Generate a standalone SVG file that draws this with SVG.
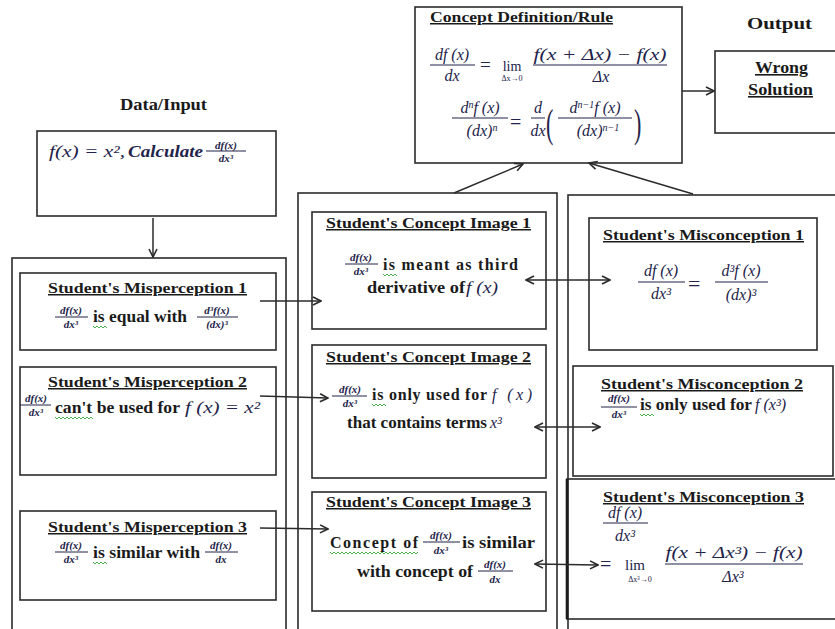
<svg xmlns="http://www.w3.org/2000/svg" width="835" height="629" viewBox="0 0 835 629">
<style>
.box{fill:none;stroke:#2b2b2b;stroke-width:1.6}
.ln{fill:none;stroke:#2b2b2b;stroke-width:1.5}
.bar{stroke:#23234a;stroke-width:1}
.h{font-family:"Liberation Serif","DejaVu Serif",serif;font-weight:bold;font-size:15px;text-decoration:underline;fill:#1a1a1a}
.t{font-family:"Liberation Serif","DejaVu Serif",serif;font-weight:bold;font-size:16px;fill:#1a1a1a}
.m{font-family:"Liberation Serif","DejaVu Serif",serif;font-style:italic;font-size:15px;fill:#23234a}
.r{font-family:"Liberation Serif","DejaVu Serif",serif;font-size:15px;fill:#23234a}
.s{font-family:"Liberation Serif","DejaVu Serif",serif;font-style:italic;font-weight:bold;font-size:11px;fill:#23234a;text-anchor:middle}
.c{text-anchor:middle}
.sq{fill:none;stroke:#4caf50;stroke-width:1}
</style>
<defs>
<marker id="ar" viewBox="0 0 10 10" refX="9" refY="5" markerWidth="10" markerHeight="10" markerUnits="userSpaceOnUse" orient="auto-start-reverse">
<path d="M1,1 L9,5 L1,9" fill="none" stroke="#2b2b2b" stroke-width="1.6"/>
</marker>
</defs>

<!-- column outer boxes -->
<g id="col-left"><rect class="box" x="12" y="258" width="274" height="400"/></g>
<g id="col-middle"><rect class="box" x="298" y="193" width="259" height="460"/></g>
<g id="col-right"><rect class="box" x="568" y="195" width="290" height="460"/></g>

<!-- Concept definition -->
<g id="concept-definition">
<rect class="box" x="415" y="7" width="267" height="156"/>
<text class="h" x="430" y="22" textLength="183" lengthAdjust="spacingAndGlyphs">Concept Definition/Rule</text>
<text class="m c" x="452" y="60" style="font-size:16px">df (x)</text>
<line class="bar" x1="430" y1="65" x2="475" y2="65"/>
<text class="m c" x="452" y="81" style="font-size:16px">dx</text>
<text class="r" x="480" y="71" style="font-size:19px">=</text>
<text class="r c" x="512" y="71" style="font-size:14px">lim</text>
<text class="r c" x="512" y="81" style="font-size:8px">Δx→0</text>
<text class="m c" x="600" y="60" style="font-size:16px" textLength="133" lengthAdjust="spacingAndGlyphs">f(x + Δx) − f(x)</text>
<line class="bar" x1="533" y1="65" x2="667" y2="65"/>
<text class="m c" x="601" y="82" style="font-size:16px">Δx</text>
<text class="m c" x="480" y="113" style="font-size:16px">d<tspan style="font-size:10px" dy="-5">n</tspan><tspan dy="5">f (x)</tspan></text>
<line class="bar" x1="452" y1="118" x2="508" y2="118"/>
<text class="m c" x="482" y="136" style="font-size:16px">(dx)<tspan style="font-size:10px" dy="-5">n</tspan></text>
<text class="r" x="510" y="129" style="font-size:20px">=</text>
<text class="m c" x="538" y="113" style="font-size:16px">d</text>
<line class="bar" x1="531" y1="118" x2="545" y2="118"/>
<text class="m c" x="538" y="136" style="font-size:16px">dx</text>
<text class="r" x="546" y="137" style="font-size:40px" transform="translate(546 137) scale(0.55 1) translate(-546 -137)">(</text>
<text class="m c" x="595" y="113" style="font-size:16px">d<tspan style="font-size:10px" dy="-5">n−1</tspan><tspan dy="5">f (x)</tspan></text>
<line class="bar" x1="558" y1="118" x2="632" y2="118"/>
<text class="m c" x="598" y="136" style="font-size:16px">(dx)<tspan style="font-size:10px" dy="-5">n−1</tspan></text>
<text class="r" x="634" y="137" style="font-size:40px" transform="translate(634 137) scale(0.55 1) translate(-634 -137)">)</text>
</g>

<!-- Output -->
<text class="t" x="747" y="29" style="font-size:17px" textLength="65" lengthAdjust="spacingAndGlyphs">Output</text>
<g id="wrong-solution">
<rect class="box" x="715" y="51" width="140" height="82"/>
<text class="h" x="755" y="73" style="font-size:16px" textLength="53" lengthAdjust="spacingAndGlyphs">Wrong</text>
<text class="h" x="748" y="95" style="font-size:16px" textLength="65" lengthAdjust="spacingAndGlyphs">Solution</text>
</g>

<!-- Data/Input -->
<text class="t" x="120" y="110" textLength="87" lengthAdjust="spacingAndGlyphs">Data/Input</text>
<g id="data-input">
<rect class="box" x="37" y="131" width="239" height="85"/>
<text class="m" x="49" y="157" style="font-size:16px" textLength="76" lengthAdjust="spacingAndGlyphs">f(x) = x², </text>
<text class="m" x="128" y="157" style="font-size:16px;font-weight:bold" textLength="75" lengthAdjust="spacingAndGlyphs">Calculate</text>
<text class="s" x="226" y="149">df(x)</text>
<line class="bar" x1="206" y1="151" x2="246" y2="151"/>
<text class="s" x="226" y="162">dx³</text>
</g>

<!-- Misperceptions -->
<g id="misperception-1">
<rect class="box" x="20" y="273" width="256" height="77"/>
<text class="h" x="48" y="293" textLength="199" lengthAdjust="spacingAndGlyphs">Student's Misperception 1</text>
<text class="s" x="71" y="314">df(x)</text>
<line class="bar" x1="55" y1="317" x2="88" y2="317"/>
<text class="s" x="71" y="328">dx³</text>
<text class="t" x="93" y="322" textLength="94" lengthAdjust="spacingAndGlyphs">is equal with</text>
<path class="sq" d="M93,326 l2,2 l2,-2 l2,2 l2,-2 l2,2 l2,-2 l2,2"/>
<text class="s" x="217" y="314">d³f(x)</text>
<line class="bar" x1="197" y1="317" x2="238" y2="317"/>
<text class="s" x="217" y="328">(dx)³</text>
</g>
<g id="misperception-2">
<rect class="box" x="20" y="367" width="256" height="108"/>
<text class="h" x="48" y="387" textLength="199" lengthAdjust="spacingAndGlyphs">Student's Misperception 2</text>
<text class="s" x="36" y="402">df(x)</text>
<line class="bar" x1="20" y1="405" x2="51" y2="405"/>
<text class="s" x="36" y="416">dx³</text>
<text class="t" x="55" y="413" textLength="125" lengthAdjust="spacingAndGlyphs">can't be used for</text>
<text class="m" x="185" y="413" style="font-size:16px" textLength="75" lengthAdjust="spacingAndGlyphs">f (x) = x²</text>
<path class="sq" d="M55,417 l2,2 l2,-2 l2,2 l2,-2 l2,2 l2,-2 l2,2 l2,-2 l2,2 l2,-2 l2,2 l2,-2 l2,2 l2,-2 l2,2 l2,-2 l2,2 l2,-2 l2,2"/>
</g>
<g id="misperception-3">
<rect class="box" x="20" y="511" width="256" height="89"/>
<text class="h" x="48" y="532" textLength="199" lengthAdjust="spacingAndGlyphs">Student's Misperception 3</text>
<text class="s" x="71" y="549">df(x)</text>
<line class="bar" x1="55" y1="552" x2="88" y2="552"/>
<text class="s" x="71" y="563">dx³</text>
<text class="t" x="93" y="558" textLength="107" lengthAdjust="spacingAndGlyphs">is similar with</text>
<path class="sq" d="M93,562 l2,2 l2,-2 l2,2 l2,-2 l2,2 l2,-2 l2,2"/>
<text class="s" x="221" y="549">df(x)</text>
<line class="bar" x1="205" y1="552" x2="238" y2="552"/>
<text class="s" x="221" y="563">dx</text>
</g>

<!-- Concept images -->
<g id="concept-image-1">
<rect class="box" x="312" y="212" width="234" height="117"/>
<text class="h" x="326" y="228" textLength="205" lengthAdjust="spacingAndGlyphs">Student's Concept Image 1</text>
<text class="s" x="361" y="261">df(x)</text>
<line class="bar" x1="345" y1="264" x2="378" y2="264"/>
<text class="s" x="361" y="275">dx³</text>
<text class="t" x="383" y="270" textLength="135" lengthAdjust="spacing">is meant  as  third</text>
<path class="sq" d="M383,274 l2,2 l2,-2 l2,2 l2,-2 l2,2 l2,-2 l2,2"/>
<text class="t" x="367" y="293" textLength="98" lengthAdjust="spacingAndGlyphs">derivative of</text>
<text class="m" x="466" y="293" style="font-size:16px" textLength="32" lengthAdjust="spacingAndGlyphs">f (x)</text>
</g>
<g id="concept-image-2">
<rect class="box" x="312" y="345" width="234" height="133"/>
<text class="h" x="326" y="362" textLength="205" lengthAdjust="spacingAndGlyphs">Student's Concept Image 2</text>
<text class="s" x="350" y="393">df(x)</text>
<line class="bar" x1="332" y1="396" x2="367" y2="396"/>
<text class="s" x="350" y="407">dx³</text>
<text class="t" x="372" y="400" textLength="115" lengthAdjust="spacing">is only used  for</text>
<text class="m" x="492" y="400" style="font-size:16px" textLength="40" lengthAdjust="spacing">f (x)</text>
<path class="sq" d="M372,404 l2,2 l2,-2 l2,2 l2,-2 l2,2 l2,-2 l2,2"/>
<text class="t" x="347" y="428" textLength="140" lengthAdjust="spacingAndGlyphs">that contains terms</text>
<text class="m" x="490" y="428" style="font-size:16px">x³</text>
</g>
<g id="concept-image-3">
<rect class="box" x="312" y="492" width="234" height="119"/>
<text class="h" x="326" y="507" textLength="205" lengthAdjust="spacingAndGlyphs">Student's Concept Image 3</text>
<text class="t" x="330" y="548" textLength="88" lengthAdjust="spacing">Concept  of</text>
<path class="sq" d="M330,552 l2,2 l2,-2 l2,2 l2,-2 l2,2 l2,-2 l2,2 l2,-2 l2,2 l2,-2 l2,2 l2,-2 l2,2 l2,-2 l2,2 l2,-2 l2,2 l2,-2 l2,2 l2,-2 l2,2 l2,-2 l2,2 l2,-2 l2,2 l2,-2 l2,2 l2,-2 l2,2 l2,-2 l2,2 l2,-2 l2,2 l2,-2 l2,2 l2,-2 l2,2 l2,-2 l2,2 l2,-2 l2,2 l2,-2 l2,2 l2,-2"/>
<text class="s" x="441" y="539">df(x)</text>
<line class="bar" x1="423" y1="542" x2="460" y2="542"/>
<text class="s" x="441" y="554">dx³</text>
<text class="t" x="462" y="548" textLength="73" lengthAdjust="spacingAndGlyphs">is similar</text>
<text class="t" x="357" y="577" textLength="116" lengthAdjust="spacingAndGlyphs">with concept of</text>
<text class="s" x="495" y="568">df(x)</text>
<line class="bar" x1="478" y1="571" x2="513" y2="571"/>
<text class="s" x="495" y="583">dx</text>
</g>

<!-- Misconceptions -->
<g id="misconception-1">
<rect class="box" x="589" y="218" width="228" height="132"/>
<text class="h" x="603" y="240" textLength="201" lengthAdjust="spacingAndGlyphs">Student's Misconception 1</text>
<text class="m c" x="661" y="276" style="font-size:16px">df (x)</text>
<line class="bar" x1="638" y1="282" x2="685" y2="282"/>
<text class="m c" x="661" y="299" style="font-size:16px">dx³</text>
<text class="r" x="688" y="291" style="font-size:22px">=</text>
<text class="m c" x="741" y="276" style="font-size:16px">d³f (x)</text>
<line class="bar" x1="715" y1="282" x2="768" y2="282"/>
<text class="m c" x="741" y="300" style="font-size:16px">(dx)³</text>
</g>
<g id="misconception-2">
<rect class="box" x="573" y="366" width="260" height="110"/>
<text class="h" x="601" y="389" textLength="202" lengthAdjust="spacingAndGlyphs">Student's Misconception 2</text>
<text class="s" x="619" y="402">df(x)</text>
<line class="bar" x1="601" y1="407" x2="637" y2="407"/>
<text class="s" x="619" y="418">dx³</text>
<text class="t" x="640" y="410" textLength="112" lengthAdjust="spacingAndGlyphs">is only used for</text>
<text class="m" x="755" y="410" style="font-size:16px">f (x³)</text>
<path class="sq" d="M640,414 l2,2 l2,-2 l2,2 l2,-2 l2,2 l2,-2 l2,2"/>
</g>
<g id="misconception-3">
<rect class="box" x="567" y="479" width="290" height="140"/>
<line x1="567" y1="479" x2="567" y2="619" stroke="#1a1a1a" stroke-width="2.6"/>
<text class="h" x="603" y="502" textLength="201" lengthAdjust="spacingAndGlyphs">Student's Misconception 3</text>
<text class="m c" x="625" y="518" style="font-size:16px">df (x)</text>
<line class="bar" x1="603" y1="523" x2="648" y2="523"/>
<text class="m c" x="625" y="541" style="font-size:16px">dx³</text>
<text class="r" x="600" y="571" style="font-size:20px">=</text>
<text class="r c" x="635" y="570" style="font-size:15px">lim</text>
<text class="r c" x="640" y="582" style="font-size:8px">Δx³→0</text>
<text class="m c" x="734" y="558" style="font-size:16px" textLength="137" lengthAdjust="spacingAndGlyphs">f(x + Δx³) − f(x)</text>
<line class="bar" x1="665" y1="564" x2="803" y2="564"/>
<text class="m c" x="733" y="582" style="font-size:16px">Δx³</text>
</g>

<!-- connectors -->
<g id="connectors">
<line class="ln" x1="153" y1="218" x2="153" y2="257" marker-end="url(#ar)"/>
<line class="ln" x1="682" y1="91" x2="714" y2="91" marker-end="url(#ar)"/>
<line class="ln" x1="454" y1="193" x2="523" y2="164" marker-end="url(#ar)"/>
<line class="ln" x1="693" y1="194" x2="589" y2="163" marker-end="url(#ar)"/>
<line class="ln" x1="260" y1="301" x2="321" y2="301" marker-end="url(#ar)"/>
<line class="ln" x1="260" y1="396" x2="328" y2="398" marker-end="url(#ar)"/>
<line class="ln" x1="260" y1="528" x2="328" y2="529" marker-end="url(#ar)"/>
<line class="ln" x1="526" y1="280" x2="610" y2="280" marker-start="url(#ar)" marker-end="url(#ar)"/>
<line class="ln" x1="535" y1="427" x2="600" y2="427" marker-start="url(#ar)" marker-end="url(#ar)"/>
<line class="ln" x1="535" y1="564" x2="598" y2="565" marker-start="url(#ar)" marker-end="url(#ar)"/>
</g>
</svg>
